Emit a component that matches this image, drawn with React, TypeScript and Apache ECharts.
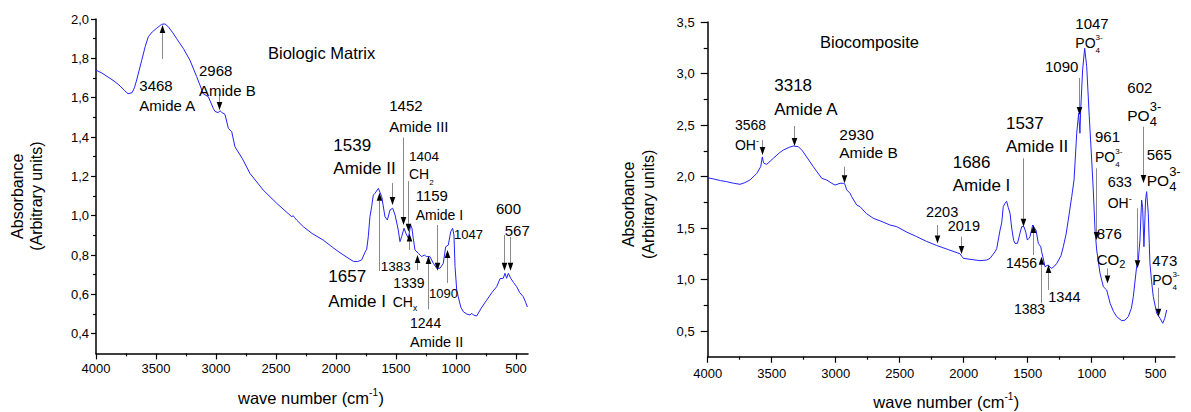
import React, { useEffect, useRef } from "react";
import * as echarts from "echarts";

const FONT_FAMILY = '"Liberation Sans", Arial, Helvetica, sans-serif';

// ---------- Data: Biologic Matrix spectrum ----------
const matrixWavenumber = [
  4000, 3950, 3900, 3850, 3800, 3760, 3733, 3700, 3680, 3661, 3640, 3619, 3590, 3564, 3530, 3494, 3453, 3425, 3397, 3360,
  3328, 3272, 3217, 3161, 3106, 3064, 3022, 3008, 2981, 2967, 2953, 2925, 2897, 2869, 2842, 2780, 2717, 2606, 2494, 2369,
  2356, 2345, 2328, 2272, 2200, 2106, 2030, 1967, 1900, 1856, 1820, 1786, 1758, 1744, 1731, 1717, 1703, 1689, 1675, 1647,
  1619, 1592, 1572, 1550, 1528, 1508, 1481, 1467, 1453, 1433, 1417, 1397, 1378, 1367, 1356, 1342, 1314, 1286, 1265, 1244,
  1217, 1189, 1161, 1133, 1106, 1086, 1064, 1044, 1028, 1017, 1008, 994, 981, 960, 939, 910, 883, 869, 855, 828,
  790, 744, 700, 661, 633, 606, 592, 578, 564, 544, 520, 494, 470, 439, 420, 405,
];
const matrixAbsorbance = [
  1.74, 1.725, 1.705, 1.685, 1.66, 1.635, 1.62, 1.625, 1.65, 1.69, 1.74, 1.79, 1.86, 1.91, 1.935, 1.953, 1.973, 1.975, 1.96, 1.93,
  1.9, 1.85, 1.79, 1.707, 1.62, 1.605, 1.545, 1.53, 1.524, 1.534, 1.526, 1.515, 1.444, 1.427, 1.35, 1.29, 1.215, 1.13, 1.063, 0.995,
  1.0, 0.99, 0.978, 0.944, 0.91, 0.876, 0.84, 0.812, 0.785, 0.768, 0.767, 0.775, 0.815, 0.83, 0.893, 0.995, 1.046, 1.105, 1.114, 1.139,
  1.097, 0.995, 0.978, 1.029, 1.038, 1.004, 0.927, 0.868, 0.893, 0.936, 0.91, 0.885, 0.953, 0.936, 0.885, 0.826, 0.809, 0.792, 0.8, 0.792,
  0.792, 0.758, 0.733, 0.733, 0.758, 0.842, 0.851, 0.919, 0.936, 0.902, 0.741, 0.622, 0.588, 0.535, 0.512, 0.5, 0.495, 0.504, 0.495, 0.49,
  0.53, 0.571, 0.61, 0.639, 0.68, 0.682, 0.707, 0.682, 0.707, 0.682, 0.66, 0.639, 0.61, 0.588, 0.56, 0.536,
];

// ---------- Data: Biocomposite spectrum ----------
const compositeWavenumber = [
  4000, 3950, 3900, 3852, 3800, 3748, 3710, 3670, 3617, 3586, 3573, 3565, 3560, 3539, 3487, 3440, 3409, 3360, 3331, 3292,
  3260, 3227, 3175, 3109, 3070, 3031, 3005, 2966, 2941, 2930, 2914, 2888, 2875, 2836, 2810, 2760, 2706, 2654, 2576, 2523,
  2445, 2367, 2341, 2290, 2211, 2120, 2029, 2015, 2003, 1951, 1873, 1820, 1794, 1755, 1742, 1716, 1703, 1691, 1677, 1665,
  1652, 1638, 1625, 1610, 1599, 1580, 1560, 1547, 1529, 1515, 1503, 1490, 1482, 1461, 1448, 1435, 1417, 1398, 1391, 1378,
  1365, 1350, 1339, 1325, 1313, 1290, 1273, 1240, 1222, 1200, 1183, 1156, 1138, 1117, 1102, 1092, 1086, 1071, 1055, 1039,
  1019, 1000, 987, 974, 961, 935, 909, 883, 856, 830, 805, 766, 740, 714, 690, 675, 649, 636, 623, 610,
  602, 592, 579, 571, 558, 545, 532, 519, 492, 466, 445, 430, 414,
];
const compositeAbsorbance = [
  1.988, 1.975, 1.96, 1.95, 1.935, 1.924, 1.94, 1.966, 2.03, 2.095, 2.19, 2.14, 2.128, 2.118, 2.177, 2.23, 2.257, 2.285, 2.296, 2.29,
  2.25, 2.19, 2.095, 1.983, 1.966, 1.934, 1.917, 1.934, 1.934, 1.93, 1.87, 1.837, 1.804, 1.723, 1.707, 1.64, 1.594, 1.57, 1.529, 1.513,
  1.46, 1.416, 1.4, 1.37, 1.33, 1.29, 1.25, 1.225, 1.206, 1.196, 1.183, 1.189, 1.206, 1.27, 1.3, 1.48, 1.55, 1.707, 1.74, 1.76,
  1.7, 1.643, 1.5, 1.38, 1.35, 1.351, 1.45, 1.513, 1.513, 1.46, 1.383, 1.4, 1.416, 1.529, 1.5, 1.48, 1.351, 1.318, 1.27, 1.2,
  1.124, 1.135, 1.14, 1.12, 1.108, 1.13, 1.157, 1.23, 1.318, 1.44, 1.578, 1.804, 1.966, 2.42, 2.614, 2.42, 2.646, 3.034, 3.245, 3.066,
  2.58, 2.16, 1.85, 1.48, 1.286, 1.06, 0.93, 0.898, 0.769, 0.69, 0.64, 0.6, 0.605, 0.64, 0.72, 0.833, 1.124, 1.189, 1.383, 1.772,
  1.7, 1.318, 1.772, 1.853, 1.643, 1.157, 0.98, 0.833, 0.672, 0.623, 0.575, 0.62, 0.704,
];

// ---------- Tick values ----------
const xMajorTicks = [4000, 3500, 3000, 2500, 2000, 1500, 1000, 500];
const xMinorTicks = [3750, 3250, 2750, 2250, 1750, 1250, 750];
const matrixYMajor = [0.4, 0.6, 0.8, 1.0, 1.2, 1.4, 1.6, 1.8, 2.0];
const matrixYMinor = [0.5, 0.7, 0.9, 1.1, 1.3, 1.5, 1.7, 1.9];
const compositeYMajor = [0.5, 1.0, 1.5, 2.0, 2.5, 3.0, 3.5];
const compositeYMinor = [0.75, 1.25, 1.75, 2.25, 2.75, 3.25];

// ---------- Annotations (anchored in data coordinates) ----------
type Label = {
  x: number; y: number; text: string; size: number;
  sub?: string; sup?: string; ss?: number; subDy?: number; supDy?: number; tail?: string;
};
type Arrow = { x: number; tail: number; tip: number };

const smallPO = { sub: "4", sup: "3-", ss: 8, subDy: 7.5, supDy: -5.5 };
const bigPO = { sub: "4", sup: "3-", ss: 13, subDy: 6, supDy: -8.5 };
const OHminus = { sup: "-", ss: 9, supDy: -4 };

const matrixLabels: Label[] = [
  { x: 2567, y: 1.827, text: "Biologic Matrix", size: 16.5 },
  { x: 3639, y: 1.664, text: "3468", size: 15 },
  { x: 3639, y: 1.558, text: "Amide A", size: 15 },
  { x: 3142, y: 1.737, text: "2968", size: 15 },
  { x: 3142, y: 1.639, text: "Amide B", size: 15 },
  { x: 2022, y: 1.359, text: "1539", size: 17 },
  { x: 2022, y: 1.241, text: "Amide II", size: 17 },
  { x: 1556, y: 1.558, text: "1452", size: 15 },
  { x: 1556, y: 1.456, text: "Amide III", size: 15 },
  { x: 1392, y: 1.3, text: "1404", size: 13.5 },
  { x: 1392, y: 1.212, text: "CH", size: 14, sub: "2", ss: 8, subDy: 8 },
  { x: 1336, y: 1.105, text: "1159", size: 15 },
  { x: 1336, y: 1.004, text: "Amide I", size: 14 },
  { x: 1017, y: 0.902, text: "1047", size: 13 },
  { x: 667, y: 1.037, text: "600", size: 15 },
  { x: 594, y: 0.926, text: "567", size: 15 },
  { x: 1628, y: 0.741, text: "1383", size: 13.5 },
  { x: 1522, y: 0.66, text: "1339", size: 14 },
  { x: 1527, y: 0.562, text: "CH", size: 14, sub: "x", ss: 8.5, subDy: 6.5 },
  { x: 1225, y: 0.602, text: "1090", size: 13 },
  { x: 1383, y: 0.457, text: "1244", size: 14 },
  { x: 1383, y: 0.359, text: "Amide II", size: 14.5 },
  { x: 2064, y: 0.69, text: "1657", size: 17 },
  { x: 2064, y: 0.566, text: "Amide I", size: 17 },
];
const matrixArrows: Arrow[] = [
  { x: 3450, tail: 1.797, tip: 1.969 },
  { x: 2972, tail: 1.619, tip: 1.537 },
  { x: 1531, tail: 1.166, tip: 1.054 },
  { x: 1442, tail: 1.397, tip: 0.953 },
  { x: 1397, tail: 1.176, tip: 0.919 },
  { x: 1156, tail: 0.953, tip: 0.72 },
  { x: 1077, tail: 0.658, tip: 0.826 },
  { x: 1231, tail: 0.524, tip: 0.795 },
  { x: 1322, tail: 0.724, tip: 0.8 },
  { x: 1394, tail: 0.826, tip: 0.91 },
  { x: 1639, tail: 0.719, tip: 1.117 },
  { x: 600, tail: 0.902, tip: 0.72 },
  { x: 550, tail: 0.892, tip: 0.72 },
];

const compositeLabels: Label[] = [
  { x: 3123, y: 3.309, text: "Biocomposite", size: 16.5 },
  { x: 3787, y: 2.497, text: "3568", size: 14 },
  { x: 3787, y: 2.306, text: "OH", size: 14, ...OHminus },
  { x: 3480, y: 2.879, text: "3318", size: 17 },
  { x: 3480, y: 2.652, text: "Amide A", size: 17 },
  { x: 2972, y: 2.41, text: "2930", size: 15.5 },
  { x: 2972, y: 2.235, text: "Amide B", size: 15.5 },
  { x: 2295, y: 1.652, text: "2203", size: 14.5 },
  { x: 2125, y: 1.522, text: "2019", size: 14.5 },
  { x: 2086, y: 2.139, text: "1686", size: 17 },
  { x: 2086, y: 1.917, text: "Amide I", size: 17 },
  { x: 1670, y: 2.517, text: "1537", size: 17 },
  { x: 1670, y: 2.289, text: "Amide II", size: 17 },
  { x: 1670, y: 1.157, text: "1456", size: 14 },
  { x: 1607, y: 0.711, text: "1383", size: 14 },
  { x: 1339, y: 0.827, text: "1344", size: 14.5 },
  { x: 1365, y: 3.066, text: "1090", size: 15 },
  { x: 1128, y: 3.487, text: "1047", size: 15 },
  { x: 1128, y: 3.293, text: "PO", size: 14, ...smallPO },
  { x: 974, y: 2.386, text: "961", size: 15 },
  { x: 974, y: 2.192, text: "PO", size: 14, ...smallPO },
  { x: 875, y: 1.95, text: "633", size: 14.5 },
  { x: 875, y: 1.74, text: "OH", size: 14, ...OHminus },
  { x: 961, y: 1.448, text: "876", size: 15 },
  { x: 961, y: 1.199, text: "CO", size: 15, sub: "2", ss: 11, subDy: 4.5 },
  { x: 722, y: 2.862, text: "602", size: 15 },
  { x: 722, y: 2.597, text: "PO", size: 15.5, ...bigPO },
  { x: 570, y: 2.218, text: "565", size: 15 },
  { x: 570, y: 1.966, text: "PO", size: 15.5, ...bigPO },
  { x: 527, y: 1.189, text: "473", size: 15 },
  { x: 527, y: 0.995, text: "PO", size: 14, ...smallPO },
];
const compositeArrows: Arrow[] = [
  { x: 3573, tail: 2.354, tip: 2.209 },
  { x: 3326, tail: 2.49, tip: 2.296 },
  { x: 2935, tail: 2.095, tip: 1.934 },
  { x: 2211, tail: 1.529, tip: 1.349 },
  { x: 2021, tail: 1.416, tip: 1.247 },
  { x: 1534, tail: 2.177, tip: 1.513 },
  { x: 1461, tail: 1.237, tip: 1.529 },
  { x: 1398, tail: 0.769, tip: 1.221 },
  { x: 1344, tail: 0.898, tip: 1.141 },
  { x: 1102, tail: 2.956, tip: 2.597 },
  { x: 969, tail: 2.08, tip: 1.383 },
  { x: 648, tail: 1.691, tip: 1.109 },
  { x: 883, tail: 1.109, tip: 0.962 },
  { x: 602, tail: 2.484, tip: 1.937 },
  { x: 480, tail: 0.92, tip: 0.639 },
];

// ---------- helpers ----------
let measureCtx: CanvasRenderingContext2D | null = null;
function textWidth(t: string, size: number): number {
  if (!measureCtx) measureCtx = document.createElement("canvas").getContext("2d");
  if (!measureCtx) return t.length * size * 0.55;
  measureCtx.font = `${size}px ${FONT_FAMILY}`;
  return measureCtx.measureText(t).width;
}

function txt(text: string, x: number, y: number, size: number, extra: any = {}) {
  return {
    type: "text",
    x,
    y,
    silent: true,
    z: 100,
    style: {
      text,
      fontSize: size,
      fontFamily: FONT_FAMILY,
      fill: "#000",
      align: "left",
      verticalAlign: "middle",
      ...extra,
    },
  };
}

function labelElements(l: Label, px: number, py: number) {
  const els: any[] = [txt(l.text, px, py, l.size)];
  const x = px + textWidth(l.text, l.size);
  const ss = l.ss ?? l.size * 0.6;
  let w = 0;
  if (l.sub) {
    els.push(txt(l.sub, x, py + (l.subDy ?? l.size * 0.45), ss));
    w = Math.max(w, textWidth(l.sub, ss));
  }
  if (l.sup) {
    els.push(txt(l.sup, x, py + (l.supDy ?? -l.size * 0.4), ss));
    w = Math.max(w, textWidth(l.sup, ss));
  }
  if (l.tail) els.push(txt(l.tail, x + w + 0.5, py, l.size));
  return els;
}

function labelWidth(l: Label) {
  const ss = l.ss ?? l.size * 0.6;
  let w = textWidth(l.text, l.size);
  let s = 0;
  if (l.sub) s = Math.max(s, textWidth(l.sub, ss));
  if (l.sup) s = Math.max(s, textWidth(l.sup, ss));
  w += s;
  if (l.tail) w += textWidth(l.tail, l.size) + 0.5;
  return w;
}

function arrowElements(tail: number[], tip: number[]) {
  const dir = tip[1] > tail[1] ? 1 : -1;
  const headLen = 8;
  const headW = 2.8;
  const baseY = tip[1] - dir * headLen;
  const x = Math.round(tip[0]) + 0.5;
  return [
    {
      type: "line",
      silent: true,
      z: 90,
      shape: { x1: x, y1: tail[1], x2: x, y2: baseY },
      style: { stroke: "#8a8a8a", lineWidth: 1 },
    },
    {
      type: "polygon",
      silent: true,
      z: 95,
      shape: { points: [[x - headW, baseY], [x + headW, baseY], [x, tip[1]]] },
      style: { fill: "#000" },
    },
  ];
}

const commaFmt = (v: number) => v.toFixed(1).replace(".", ",");

function makeXAxes(grid: number, min: number, majorLen: number, minorLen: number, margin: number) {
  const base = {
    type: "value",
    gridIndex: grid,
    min,
    max: 4000,
    inverse: true,
    position: "bottom",
    splitLine: { show: false },
  };
  return [
    {
      ...base,
      axisLine: { show: true, onZero: false, lineStyle: { color: "#000", width: 1.5 } },
      axisTick: { show: true, customValues: xMajorTicks, length: majorLen, lineStyle: { color: "#000", width: 1.2 } },
      axisLabel: {
        show: true,
        customValues: xMajorTicks,
        margin,
        fontSize: 13,
        fontFamily: FONT_FAMILY,
        color: "#000",
        formatter: (v: number) => String(v),
      },
    },
    {
      ...base,
      axisLine: { show: false, onZero: false },
      axisTick: { show: true, customValues: xMinorTicks, length: minorLen, lineStyle: { color: "#000", width: 1.2 } },
      axisLabel: { show: false },
    },
  ];
}

function makeYAxes(grid: number, min: number, max: number, major: number[], minor: number[], majorLen: number, minorLen: number, margin: number) {
  const base = { type: "value", gridIndex: grid, min, max, position: "left", splitLine: { show: false } };
  return [
    {
      ...base,
      axisLine: { show: true, onZero: false, lineStyle: { color: "#000", width: 1.5 } },
      axisTick: { show: true, customValues: major, length: majorLen, lineStyle: { color: "#000", width: 1.2 } },
      axisLabel: {
        show: true,
        customValues: major,
        margin,
        fontSize: 13,
        fontFamily: FONT_FAMILY,
        color: "#000",
        formatter: commaFmt,
      },
    },
    {
      ...base,
      axisLine: { show: false, onZero: false },
      axisTick: { show: true, customValues: minor, length: minorLen, lineStyle: { color: "#000", width: 1.2 } },
      axisLabel: { show: false },
    },
  ];
}

function zip(xs: number[], ys: number[]) {
  return xs.map((x, i) => [x, ys[i]]);
}

function buildOption() {
  return {
    animation: false,
    backgroundColor: "#fff",
    grid: [
      { left: 96, top: 19, width: 432, height: 334.4, outerBoundsMode: "none" },
      { left: 707.7, top: 22, width: 467.2, height: 334.75, outerBoundsMode: "none" },
    ],
    xAxis: [...makeXAxes(0, 400, 6, 3, 9), ...makeXAxes(1, 350, 6, 3, 10)],
    yAxis: [
      ...makeYAxes(0, 0.3, 2.0, matrixYMajor, matrixYMinor, 5, 3, 7),
      ...makeYAxes(1, 0.25, 3.5, compositeYMajor, compositeYMinor, 7, 4, 13),
    ],
    series: [
      {
        name: "Biologic Matrix",
        type: "line",
        xAxisIndex: 0,
        yAxisIndex: 0,
        data: zip(matrixWavenumber, matrixAbsorbance),
        showSymbol: false,
        symbol: "none",
        silent: true,
        lineStyle: { color: "#2222ff", width: 1 },
      },
      {
        name: "Biocomposite",
        type: "line",
        xAxisIndex: 2,
        yAxisIndex: 2,
        data: zip(compositeWavenumber, compositeAbsorbance),
        showSymbol: false,
        symbol: "none",
        silent: true,
        lineStyle: { color: "#2222ff", width: 1 },
      },
    ],
  };
}

function buildGraphics(chart: echarts.ECharts) {
  const els: any[] = [];
  const panels = [
    { grid: 0, labels: matrixLabels, arrows: matrixArrows, xmin: 400, ymin: 0.3, ymax: 2.0, nameDx: -1, nameDy: 44.6, yNameDy: 10 },
    { grid: 1, labels: compositeLabels, arrows: compositeArrows, xmin: 350, ymin: 0.25, ymax: 3.5, nameDx: 5, nameDy: 45, yNameDy: 15 },
  ];
  for (const p of panels) {
    const toPx = (x: number, y: number) => chart.convertToPixel({ gridIndex: p.grid }, [x, y]) as number[];
    for (const a of p.arrows) {
      els.push(...arrowElements(toPx(a.x, a.tail), toPx(a.x, a.tip)));
    }
    for (const l of p.labels) {
      const [px, py] = toPx(l.x, l.y);
      els.push(...labelElements(l, px, py));
    }
    const bl = toPx(4000, p.ymin);
    const tr = toPx(p.xmin, p.ymax);
    // x-axis name
    const xName: Label = { x: 0, y: 0, text: "wave number (cm", size: 16.5, sup: "-1", ss: 10, supDy: -5.5, tail: ")" };
    const cx = (bl[0] + tr[0]) / 2 + p.nameDx;
    els.push(...labelElements(xName, cx - labelWidth(xName) / 2, bl[1] + p.nameDy));
    // y-axis name (two rotated lines)
    const cy = (bl[1] + tr[1]) / 2 + p.yNameDy;
    els.push(txt("Absorbance", bl[0] - 79, cy, 16, { align: "center" }));
    els[els.length - 1].rotation = Math.PI / 2;
    els.push(txt("(Arbitrary units)", bl[0] - 59.5, cy, 16, { align: "center" }));
    els[els.length - 1].rotation = Math.PI / 2;
  }
  return els;
}

export default function App() {
  const ref = useRef<HTMLDivElement>(null);
  useEffect(() => {
    if (!ref.current) return;
    const chart = echarts.init(ref.current, null, { renderer: "svg" });
    chart.setOption(buildOption() as any);
    chart.setOption({ graphic: buildGraphics(chart) } as any);
    return () => chart.dispose();
  }, []);
  return (
    <div
      ref={ref}
      style={{ position: "fixed", left: 0, top: 0, width: 1191, height: 412, background: "#fff" }}
    />
  );
}
